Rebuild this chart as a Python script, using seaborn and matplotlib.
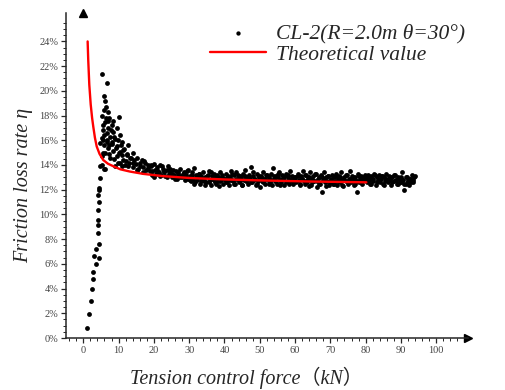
import numpy as np
import pandas as pd
import matplotlib
matplotlib.use("Agg")
import matplotlib.pyplot as plt
import seaborn as sns

# measured points: rising part at low force
rise_x = [0.95, 1.5, 2.2, 2.55, 2.83, 2.83, 3.1, 3.5, 3.5, 4.4, 4.4, 4.1, 4.1, 4.1,
          4.25, 4.5, 4.25, 4.4, 4.4, 4.7, 4.7, 5.95, 4.7, 5.3]
rise_y = [0.83, 1.94, 3.0, 3.94, 4.8, 5.35, 6.6, 6.0, 7.2, 6.45, 7.6, 8.5, 9.15, 9.55,
          10.36, 11.04, 11.6, 12.0, 12.1, 12.95, 13.95, 13.65, 15.8, 14.7]

# peak cluster 5-20 kN
peak_x = [5.4, 6.6, 5.9, 6.1, 6.4, 5.85, 6.9, 5.2, 10.2, 7.35, 6.1, 8.0, 7.1, 9.45,
          5.65, 8.5, 6.6, 10.4, 7.55, 5.2, 9.0, 6.6, 10.85, 8.0, 5.95, 9.45, 12.7,
          7.1, 11.3, 8.5, 10.4, 5.65, 12.3, 14.1, 9.45, 13.2, 11.3, 15.1, 16.5, 7.55,
          10.4, 14.1, 17.5, 5.2, 6.1, 12.7, 16.0, 18.4, 11.8, 15.1, 19.3, 17.0,
          5.5, 6.0, 6.3, 6.8, 7.2, 7.0, 7.8, 8.2, 8.8, 9.2, 9.7, 10.0, 10.6, 11.0,
          11.6, 12.0, 12.5, 13.0, 13.6, 14.0, 14.5, 15.0, 15.5, 16.2, 16.8, 17.3,
          17.8, 18.2, 18.8, 6.2, 7.4, 8.7, 9.9, 10.9, 5.6, 8.3, 9.0]
peak_y = [21.4, 20.6, 19.6, 19.2, 18.7, 18.45, 18.3, 18.0, 17.9, 17.8, 17.5, 17.25,
          17.0, 17.0, 16.85, 16.7, 16.6, 16.45, 16.3, 16.2, 16.1, 15.9, 15.9, 15.7,
          15.6, 15.5, 15.6, 15.35, 15.2, 15.15, 15.05, 15.0, 14.8, 14.95, 14.7, 14.55,
          14.4, 14.55, 14.4, 14.55, 14.15, 14.15, 14.15, 14.0, 13.7, 13.9, 13.9,
          13.75, 14.0, 13.6, 14.0, 13.45,
          17.2, 16.4, 17.8, 16.0, 15.6, 17.6, 16.8, 15.9, 16.3, 15.4, 16.0, 15.0,
          15.6, 14.8, 15.3, 14.3, 14.9, 14.2, 14.6, 13.8, 14.4, 14.1, 13.7, 14.2,
          13.8, 14.3, 13.6, 14.0, 13.5, 15.0, 14.9, 14.5, 14.2, 13.9, 16.0, 17.6, 13.9]

# steady band 19-94 kN
band_x = [19.2, 19.6, 20.0, 20.3, 20.7, 21.0, 21.4, 21.8, 22.1, 22.5, 22.9, 23.2,
          23.6, 24.0, 24.3, 24.7, 25.1, 25.4, 25.8, 26.2, 26.5, 26.9, 27.3, 27.6,
          28.0, 28.4, 28.7, 29.1, 29.5, 29.8,
          19.4, 20.1, 20.9, 21.6, 22.3, 23.0, 23.8, 24.5, 25.2, 26.0, 26.7, 27.4,
          28.2, 28.9, 29.6,
          30.1, 30.4, 30.7, 31.0, 31.3, 31.6, 31.9, 32.2, 32.5, 32.8, 33.1, 33.4,
          33.7, 34.0, 34.3, 34.6, 34.9, 35.2, 35.5, 35.8, 36.1, 36.4, 36.7, 37.0,
          37.3, 37.6, 37.9, 38.2, 38.5, 38.8, 39.1, 39.4, 39.7,
          40.1, 40.4, 40.7, 41.0, 41.3, 41.6, 41.9, 42.2, 42.5, 42.8, 43.1, 43.4,
          43.7, 44.0, 44.3, 44.6, 44.9, 45.2, 45.5, 45.8, 46.1, 46.4, 46.7, 47.0,
          47.3, 47.6, 47.9, 48.2, 48.5, 48.8, 49.1, 49.4, 49.7,
          50.1, 50.4, 50.7, 51.0, 51.3, 51.6, 51.9, 52.2, 52.5, 52.8, 53.1, 53.4,
          53.7, 54.0, 54.3, 54.6, 54.9, 55.2, 55.5, 55.8, 56.1, 56.4, 56.7, 57.0,
          57.3, 57.6, 57.9, 58.2, 58.5, 58.8, 59.1, 59.4, 59.7,
          60.1, 60.4, 60.7, 61.0, 61.3, 61.6, 61.9, 62.2, 62.5, 62.8, 63.1, 63.4,
          63.7, 64.0, 64.3, 64.6, 64.9, 65.2, 65.5, 65.8, 66.1, 66.4, 66.7, 67.0,
          67.3, 67.6, 67.9, 68.2, 68.5, 68.8, 69.1, 69.4, 69.7,
          70.1, 70.4, 70.7, 71.0, 71.3, 71.6, 71.9, 72.2, 72.5, 72.8, 73.1, 73.4,
          73.7, 74.0, 74.3, 74.6, 74.9, 75.2, 75.5, 75.8, 76.1, 76.4, 76.7, 77.0,
          77.3, 77.6, 77.9, 78.2, 78.5, 78.8, 79.1, 79.4, 79.7,
          80.1, 80.4, 80.7, 81.0, 81.3, 81.6, 81.9, 82.2, 82.5, 82.8, 83.1, 83.4,
          83.7, 84.0, 84.3, 84.6, 84.9, 85.2, 85.5, 85.8, 86.1, 86.4, 86.7, 87.0,
          87.3, 87.6, 87.9, 88.2, 88.5, 88.8, 89.1, 89.4, 89.7,
          90.1, 90.4, 90.7, 91.0, 91.3, 91.6, 91.9, 92.2, 92.5, 92.8, 93.1, 93.4,
          93.7, 94.0]
band_y = [13.9, 13.5, 14.1, 13.6, 13.3, 13.8, 13.4, 14.0, 13.2, 13.7, 13.5, 13.1,
          13.6, 13.9, 13.3, 13.4, 13.0, 13.6, 13.2, 13.5, 12.9, 13.3, 13.7, 13.1,
          13.0, 13.4, 12.8, 13.2, 13.5, 12.9,
          13.2, 13.0, 13.6, 13.1, 13.9, 13.4, 13.0, 13.7, 13.3, 12.9, 13.4, 13.0,
          13.3, 13.1, 13.6,
          13.1, 12.7, 13.4, 12.9, 13.75, 12.6, 13.2, 12.8, 13.0, 13.3, 12.5, 13.1,
          12.9, 13.4, 12.7, 13.0, 12.6, 13.2, 13.5, 12.8, 12.4, 13.1, 12.9, 13.3,
          12.6, 13.0, 13.2, 12.7, 12.3, 13.4, 12.8, 13.0, 12.5,
          12.9, 13.3, 12.6, 13.1, 12.4, 13.0, 13.5, 12.8, 12.7, 13.2, 12.5, 13.4,
          12.9, 12.6, 13.1, 13.0, 12.4, 13.3, 12.8, 13.6, 12.7, 13.0, 12.5, 13.2,
          12.9, 13.8, 12.6, 13.1, 12.8, 12.4, 13.3, 12.7, 13.0,
          12.2, 13.1, 12.7, 13.4, 12.9, 12.5, 13.2, 12.8, 13.0, 12.6, 13.3, 12.4,
          13.75, 12.9, 12.7, 13.1, 12.5, 13.0, 13.4, 12.8, 12.6, 13.2, 12.9, 12.4,
          13.3, 12.7, 13.0, 12.5, 13.5, 12.8, 13.1, 12.6, 12.9,
          13.0, 12.6, 13.3, 12.8, 12.4, 13.1, 12.9, 13.5, 12.7, 12.5, 13.2, 12.8,
          13.0, 12.3, 13.4, 12.9, 12.6, 13.1, 12.7, 13.3, 12.2, 12.9, 13.0, 12.5,
          13.2, 11.85, 12.8, 13.4, 12.6, 13.0, 12.7, 13.1, 12.4,
          12.8, 13.2, 12.5, 13.0, 12.7, 13.3, 12.4, 12.9, 13.1, 12.6, 13.4, 12.8,
          12.3, 13.0, 12.7, 13.2, 12.5, 12.9, 13.5, 12.6, 13.1, 12.8, 12.4, 13.0,
          12.7, 11.8, 13.3, 12.6, 12.9, 13.1, 12.5, 13.0, 12.8,
          13.0, 12.6, 13.2, 12.8, 12.5, 13.1, 12.9, 12.7, 13.3, 12.4, 13.0, 12.8,
          13.2, 12.6, 12.9, 13.1, 12.5, 13.0, 12.7, 13.3, 12.8, 12.6, 13.1, 12.9,
          12.4, 13.0, 12.7, 13.2, 12.8, 12.5, 13.0, 12.9, 12.6,
          12.6, 13.4, 12.8, 12.0, 12.5, 13.0, 12.7, 12.4, 12.9, 12.6, 13.2, 12.8,
          13.0, 13.1]

# extra points filling the band 30-94 kN
fill_x = [30.3, 30.9, 31.5, 32.1, 32.7, 33.3, 33.9, 34.5, 35.1, 35.7, 36.3, 36.9,
          37.5, 38.1, 38.7, 39.3, 39.9,
          40.3, 40.9, 41.5, 42.1, 42.7, 43.3, 43.9, 44.5, 45.1, 45.7, 46.3, 46.9,
          47.5, 48.1, 48.7, 49.3, 49.9,
          50.3, 50.9, 51.5, 52.1, 52.7, 53.3, 53.9, 54.5, 55.1, 55.7, 56.3, 56.9,
          57.5, 58.1, 58.7, 59.3, 59.9,
          60.3, 60.9, 61.5, 62.1, 62.7, 63.3, 63.9, 64.5, 65.1, 65.7, 66.3, 66.9,
          67.5, 68.1, 68.7, 69.3, 69.9,
          70.3, 70.9, 71.5, 72.1, 72.7, 73.3, 73.9, 74.5, 75.1, 75.7, 76.3, 76.9,
          77.5, 78.1, 78.7, 79.3, 79.9,
          80.3, 80.9, 81.5, 82.1, 82.7, 83.3, 83.9, 84.5, 85.1, 85.7, 86.3, 86.9,
          87.5, 88.1, 88.7, 89.3, 89.9,
          90.3, 90.9, 91.5, 92.1, 92.7, 93.3]
fill_y = [12.8, 13.2, 12.5, 13.0, 13.3, 12.7, 12.9, 12.4, 13.1, 12.6, 13.4, 12.8,
          12.5, 13.0, 12.7, 13.2, 12.9,
          12.6, 13.0, 12.8, 13.3, 12.5, 12.9, 13.2, 12.7, 12.4, 13.1, 12.8, 13.0,
          12.6, 13.4, 12.9, 12.5, 13.1,
          13.0, 12.6, 12.9, 13.2, 12.5, 12.8, 13.1, 12.7, 13.3, 12.4, 12.9, 13.0,
          12.6, 13.2, 12.8, 12.5, 13.0,
          12.7, 13.1, 12.5, 12.9, 13.2, 12.6, 13.0, 12.4, 12.8, 13.3, 12.7, 12.5,
          13.0, 12.9, 12.3, 13.1, 12.6,
          12.9, 12.5, 13.1, 12.7, 13.0, 12.4, 12.8, 13.2, 12.6, 12.9, 13.0, 12.5,
          12.7, 13.1, 12.6, 12.9, 13.2,
          12.7, 13.0, 12.5, 12.9, 13.2, 12.6, 12.8, 13.1, 12.4, 12.9, 12.7, 13.0,
          12.6, 13.2, 12.8, 12.5, 13.0,
          12.8, 12.5, 13.0, 12.7, 12.9, 12.6]

# theoretical curve
theory_x = [1.23, 1.4, 1.7, 2.1, 2.5, 2.83, 3.3, 3.8, 4.6, 5.66, 7.0, 8.5, 10.5,
            13.2, 17.0, 22.6, 30.0, 40.0, 52.0, 65.0, 80.2]
theory_y = [24.0, 22.5, 20.5, 18.9, 17.8, 17.1, 16.2, 15.5, 14.9, 14.4, 14.1, 13.9,
            13.65, 13.47, 13.28, 13.1, 12.95, 12.83, 12.74, 12.66, 12.6]

pts = pd.DataFrame({"force": rise_x + peak_x + band_x + fill_x,
                    "eta": rise_y + peak_y + band_y + fill_y})
theory = pd.DataFrame({"force": theory_x, "eta": theory_y})

sns.set_style("ticks")
plt.rcParams["font.family"] = ["Liberation Serif", "Noto Sans CJK SC"]

fig = plt.figure(figsize=(5.05, 3.9), dpi=100)
ax = fig.add_axes([66 / 505, 52 / 390, 402 / 505, 325 / 390])

sns.scatterplot(data=pts, x="force", y="eta", ax=ax, color="black", s=12,
                linewidth=0, label="CL-2(R=2.0m θ=30°)")
sns.lineplot(data=theory, x="force", y="eta", ax=ax, color="red", lw=1.7,
             label="Theoretical value")

ax.set_xlim(-4.9, 109)
ax.set_ylim(0, 26.3)
ax.set_xticks(range(0, 101, 10))
ax.set_xticks(np.arange(-4, 109, 2), minor=True)
ax.set_yticks(range(0, 25, 2))
ax.set_yticks(np.arange(0, 26, 0.5), minor=True)
ax.set_yticklabels([f"{v}%" for v in range(0, 25, 2)])
ax.tick_params(which="major", length=3.5, width=0.9, labelsize=7.5,
               labelcolor="#444444", pad=2)
ax.tick_params(which="minor", length=2, width=0.7)

for side in ["top", "right"]:
    ax.spines[side].set_visible(False)
for side in ["left", "bottom"]:
    ax.spines[side].set_linewidth(1.1)
ax.plot(1, 0, ">k", ms=6, transform=ax.get_yaxis_transform(), clip_on=False)
ax.plot(0, 1, "^k", ms=6, transform=ax.get_xaxis_transform(), clip_on=False)

ax.set_xlabel("Tension control force（kN）", fontsize=14.5, style="italic")
ax.set_ylabel("Friction loss rate η", fontsize=14.5, style="italic")
ax.xaxis.set_label_coords(0.45, -0.088)
ax.yaxis.set_label_coords(-0.082, 0.468)

ax.legend(frameon=False, loc="upper left", bbox_to_anchor=(0.415, 0.94),
          bbox_transform=fig.transFigure, prop={"size": 15.5, "style": "italic"},
          handlelength=2.6, handletextpad=0.5, labelspacing=0.05,
          borderpad=0, borderaxespad=0, markerscale=0.9)

fig.savefig("out.png", dpi=100)
